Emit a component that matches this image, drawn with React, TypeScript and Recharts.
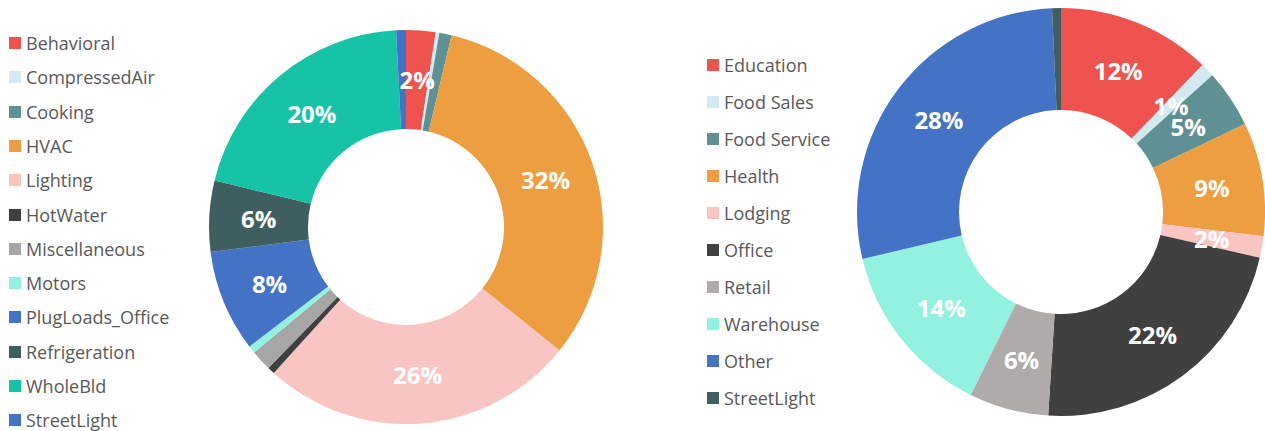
import { PieChart, Pie, Cell, Legend } from "recharts";

// left donut: end use
const endUseNames = [
  "Behavioral",
  "CompressedAir",
  "Cooking",
  "HVAC",
  "Lighting",
  "HotWater",
  "Miscellaneous",
  "Motors",
  "PlugLoads_Office",
  "Refrigeration",
  "WholeBld",
  "StreetLight",
];
const endUseValues = [2.4, 0.3, 1.0, 31.9, 25.8, 0.6, 1.7, 0.6, 8.3, 5.8, 20.3, 0.8];
const endUseColors = [
  "#EF534F",
  "#D3EAF0",
  "#5F9093",
  "#ED9E40",
  "#F9C5C3",
  "#404040",
  "#A6A6A6",
  "#93F1DF",
  "#4472C4",
  "#3F5E60",
  "#17C3A6",
  "#4472C4",
];

// right donut: building type
const buildingNames = [
  "Education",
  "Food Sales",
  "Food Service",
  "Health",
  "Lodging",
  "Office",
  "Retail",
  "Warehouse",
  "Other",
  "StreetLight",
];
const buildingValues = [12.2, 1.1, 4.6, 9.0, 1.7, 22.4, 6.3, 14.0, 28.0, 0.7];
const buildingColors = [
  "#EF534F",
  "#D3EAF0",
  "#5F9093",
  "#ED9E40",
  "#F9C5C3",
  "#404040",
  "#AFABAB",
  "#93F1DF",
  "#4472C4",
  "#3F5E60",
];

const FONT = "'Open Sans', sans-serif";
const RADIAN = Math.PI / 180;
const NO_MARGIN = { top: 0, right: 0, bottom: 0, left: 0 };

function makeLabel(minPercent: number) {
  return (props: any) => {
    const { cx, cy, midAngle, innerRadius, outerRadius, percent } = props;
    if (percent < minPercent) return null;
    const r = (innerRadius + outerRadius) / 2;
    const x = cx + r * Math.cos(-midAngle * RADIAN);
    const y = cy + r * Math.sin(-midAngle * RADIAN);
    return (
      <text
        x={x}
        y={y}
        fill="#fff"
        textAnchor="middle"
        dominantBaseline="central"
        fontFamily={FONT}
        fontWeight={700}
        fontSize={24}
      >
        {`${Math.round(percent * 100)}%`}
      </text>
    );
  };
}

function SideLegend({ names, colors, top, step, left }: any) {
  return (
    <div style={{ position: "relative" }}>
      {names.map((n: string, i: number) => (
        <div
          key={n}
          style={{
            position: "absolute",
            left,
            top: top + i * step - 12,
            height: 24,
            display: "flex",
            alignItems: "center",
            whiteSpace: "nowrap",
            fontFamily: FONT,
            fontSize: 18,
            color: "#595959",
          }}
        >
          <span style={{ width: 12, height: 12, background: colors[i], marginRight: 5 }} />
          {n}
        </div>
      ))}
    </div>
  );
}

export default function App() {
  const left = endUseNames.map((name, i) => ({ name, value: endUseValues[i] }));
  const right = buildingNames.map((name, i) => ({ name, value: buildingValues[i] }));

  return (
    <div style={{ position: "absolute", left: 0, top: 0, width: 1265, height: 431, background: "#fff" }}>
      <div style={{ position: "absolute", left: 0, top: 0 }}>
        <PieChart width={640} height={431} margin={NO_MARGIN}>
          <Legend
            wrapperStyle={{ left: 0, top: 0 }}
            content={() => (
              <SideLegend names={endUseNames} colors={endUseColors} top={43} step={34.3} left={9} />
            )}
          />
          <Pie
            data={left}
            dataKey="value"
            cx={406}
            cy={227}
            innerRadius={98}
            outerRadius={197}
            startAngle={90}
            endAngle={-270}
            stroke="none"
            labelLine={false}
            label={makeLabel(0.02)}
            isAnimationActive={false}
          >
            {left.map((d, i) => (
              <Cell key={d.name} fill={endUseColors[i]} />
            ))}
          </Pie>
        </PieChart>
      </div>
      <div style={{ position: "absolute", left: 640, top: 0 }}>
        <PieChart width={625} height={431} margin={NO_MARGIN}>
          <Legend
            wrapperStyle={{ left: 0, top: 0 }}
            content={() => (
              <SideLegend names={buildingNames} colors={buildingColors} top={65} step={37} left={67} />
            )}
          />
          <Pie
            data={right}
            dataKey="value"
            cx={421}
            cy={212}
            innerRadius={102}
            outerRadius={204}
            startAngle={90}
            endAngle={-270}
            stroke="none"
            labelLine={false}
            label={makeLabel(0.01)}
            isAnimationActive={false}
          >
            {right.map((d, i) => (
              <Cell key={d.name} fill={buildingColors[i]} />
            ))}
          </Pie>
        </PieChart>
      </div>
    </div>
  );
}
